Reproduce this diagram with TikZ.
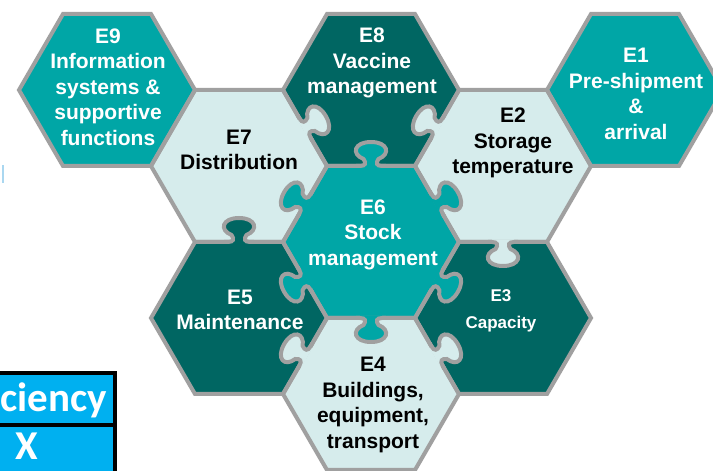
\documentclass[tikz,border=0pt]{standalone}
\usepackage{fontspec}
\setmainfont{Liberation Sans}
\newfontfamily\calfont{Carlito}
\usetikzlibrary{calc}
\definecolor{tealA}{RGB}{0,166,166}
\definecolor{darkA}{RGB}{0,102,98}
\definecolor{lightA}{RGB}{214,236,236}
\definecolor{gborder}{RGB}{160,160,160}
\definecolor{tblue}{RGB}{0,176,240}
\definecolor{artblue}{RGB}{170,215,240}
\tikzset{
  celledge/.style={draw=gborder, line width=4pt, line join=miter},
  lbl/.style={align=center, font=\bfseries\fontsize{21}{25.5}\selectfont, inner sep=0pt},
  lblsmall/.style={align=center, font=\bfseries\fontsize{17}{27}\selectfont, inner sep=0pt},
  tbltext/.style={text=white, font=\calfont\bfseries\fontsize{41}{41}\selectfont, inner sep=0pt},
}
\newcommand\hexfill[2]{\fill[#2,shift={(#1)}] (88,0) -- (44,76) -- (-44,76) -- (-88,0) -- (-44,-76) -- (44,-76) -- cycle;}
\newcommand\hexdraw[1]{\draw[celledge,shift={(#1)}] (88,0) -- (44,76) -- (-44,76) -- (-88,0) -- (-44,-76) -- (44,-76) -- cycle;}
\newcommand\knob[4]{%
  \begin{scope}[shift={($(#1)!0.5!(#2)$)}, rotate=#3]
    \fill[#4] (-2.6,-11) -- (0,-11) .. controls (0,-5.5) and (3,-4.5) .. (7,-7.5) .. controls (12,-20) and (24,-17) .. (24,0) .. controls (24,17) and (12,20) .. (7,7.5) .. controls (3,4.5) and (0,5.5) .. (0,11) -- (-2.6,11) -- cycle;
    \draw[celledge] (0,-15) -- (0,-11) .. controls (0,-5.5) and (3,-4.5) .. (7,-7.5) .. controls (12,-20) and (24,-17) .. (24,0) .. controls (24,17) and (12,20) .. (7,7.5) .. controls (3,4.5) and (0,5.5) .. (0,11) -- (0,15);
  \end{scope}}
\begin{document}
\begin{tikzpicture}[x=1pt,y=1pt]
\useasboundingbox (0,0) rectangle (713,471);
\clip (0,0) rectangle (713,471);
\fill[white] (0,0) rectangle (713,471);
% cell centres
\coordinate (c9) at (107,381);
\coordinate (c8) at (371,381);
\coordinate (c1) at (635,381);
\coordinate (c7) at (239,305);
\coordinate (c2) at (503,305);
\coordinate (c6) at (371,229);
\coordinate (c5) at (239,153);
\coordinate (c3) at (503,153);
\coordinate (c4) at (371,77);
% fills
\hexfill{c9}{tealA}
\hexfill{c8}{darkA}
\hexfill{c1}{tealA}
\hexfill{c7}{lightA}
\hexfill{c2}{lightA}
\hexfill{c6}{tealA}
\hexfill{c5}{darkA}
\hexfill{c3}{darkA}
\hexfill{c4}{lightA}
% outlines
\hexdraw{c9}
\hexdraw{c8}
\hexdraw{c1}
\hexdraw{c7}
\hexdraw{c2}
\hexdraw{c6}
\hexdraw{c5}
\hexdraw{c3}
\hexdraw{c4}
% puzzle knobs: owner, neighbour, direction, owner colour
\knob{c7}{c8}{30}{lightA}
\knob{c2}{c8}{150}{lightA}
\knob{c6}{c8}{90}{tealA}
\knob{c6}{c7}{150}{tealA}
\knob{c6}{c2}{30}{tealA}
\knob{c6}{c5}{210}{tealA}
\knob{c6}{c3}{-30}{tealA}
\knob{c6}{c4}{-90}{tealA}
\knob{c5}{c7}{90}{darkA}
\knob{c2}{c3}{-90}{lightA}
\knob{c4}{c5}{150}{lightA}
\knob{c4}{c3}{30}{lightA}
% labels
\node[lbl, text=white] (t9) at (108,384) {E9\\Information\\systems \&\\supportive\\functions};
\node[lbl, text=white] (t8) at (372,408) {E8\\Vaccine\\management};
\node[lbl, text=white] (t1) at (636,377) {E1\\Pre-shipment\\\&\\arrival};
\node[lbl, text=black] (t7) at (239,321) {E7\\Distribution};
\node[lbl, text=black] (t2) at (513,328) {E2\\Storage\\temperature};
\node[lbl, text=white] (t6) at (373,236.5) {E6\\Stock\\management};
\node[lbl, text=white] (t5) at (240,161) {E5\\Maintenance};
\node[lblsmall, text=white] (t3) at (501,160) {E3\\Capacity};
\node[lbl, text=black] (t4) at (373,66) {E4\\Buildings,\\equipment,\\transport};
% cut-off table at lower left
\draw[line width=3.5pt, fill=tblue] (-10,-10) rectangle (115,98);
\draw[line width=3.5pt] (-10,46) -- (115,46);
\node[tbltext, anchor=base east] (tc) at (107,59) {ciency};
\node[tbltext, anchor=base] (tx) at (27,11) {X};
% small stray mark
\draw[artblue, line width=1.5pt] (3,288) -- (3,306);
\end{tikzpicture}
\end{document}
